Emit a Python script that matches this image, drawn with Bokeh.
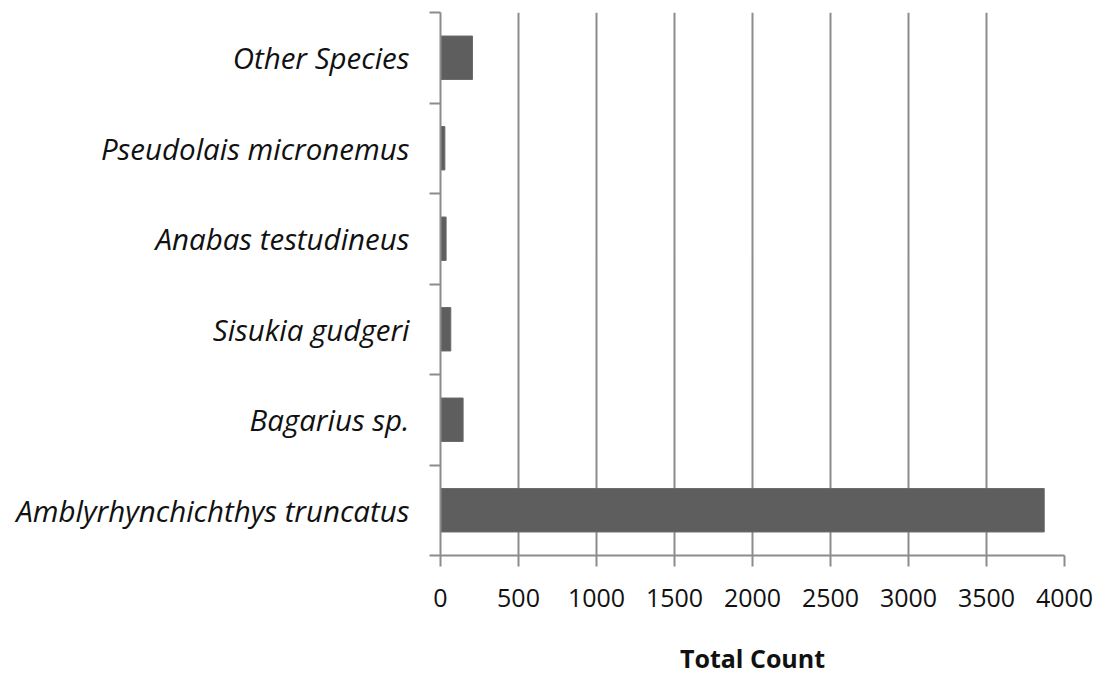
from bokeh.plotting import figure
from bokeh.models import FixedTicker, Range1d, ColumnDataSource
from bokeh.embed import file_html
from bokeh.resources import INLINE

species = ["Amblyrhynchichthys truncatus", "Bagarius sp.", "Sisukia gudgeri",
           "Anabas testudineus", "Pseudolais micronemus", "Other Species"]
counts = [3870, 145, 66, 36, 28, 205]
x_ticks = [0, 500, 1000, 1500, 2000, 2500, 3000, 3500, 4000]

pos = [i + 0.5 for i in range(len(species))]
src = ColumnDataSource(dict(y=pos, right=counts, name=species))

p = figure(width=1094, height=678, output_backend="svg", toolbar_location=None,
           x_range=Range1d(0, 4000), y_range=Range1d(0, len(species)),
           min_border_left=440, min_border_right=30, min_border_top=12,
           min_border_bottom=123)
p.outline_line_color = None
p.background_fill_color = "white"
p.border_fill_color = "white"

p.hbar(y="y", right="right", left=0, height=0.48, source=src,
       fill_color="#5e5e5e", line_color="#6a6a6a", line_width=1)

grid_col = "#8c8c8c"
# x axis
xa = p.xaxis[0]
xa.ticker = FixedTicker(ticks=x_ticks)
xa.axis_line_color = grid_col
xa.axis_line_width = 2
xa.major_tick_line_color = grid_col
xa.major_tick_line_width = 2
xa.major_tick_out = 11
xa.major_tick_in = 0
xa.minor_tick_line_color = None
xa.major_label_text_font = "Open Sans"
xa.major_label_text_font_size = "25px"
xa.major_label_text_color = "#111111"
xa.major_label_standoff = 22
xa.axis_label = "Total Count"
xa.axis_label_text_font = "Open Sans"
xa.axis_label_text_font_size = "25px"
xa.axis_label_text_font_style = "bold"
xa.axis_label_text_color = "#111111"
xa.axis_label_standoff = 31

# y axis
ya = p.yaxis[0]
ya.ticker = FixedTicker(ticks=pos, minor_ticks=list(range(len(species) + 1)))
ya.major_label_overrides = {pp: s for pp, s in zip(pos, species)}
ya.axis_line_color = grid_col
ya.axis_line_width = 2
ya.major_tick_line_color = None
ya.minor_tick_line_color = grid_col
ya.minor_tick_line_width = 2
ya.minor_tick_out = 11
ya.minor_tick_in = 0
ya.major_label_text_font = "Open Sans"
ya.major_label_text_font_size = "29.5px"
ya.major_label_text_font_style = "italic"
ya.major_label_text_color = "#111111"
ya.major_label_standoff = 20

p.xgrid.ticker = FixedTicker(ticks=x_ticks)
p.xgrid.grid_line_color = grid_col
p.xgrid.grid_line_width = 2
p.ygrid.grid_line_color = None

open("out.html", "w").write(file_html(p, INLINE))
